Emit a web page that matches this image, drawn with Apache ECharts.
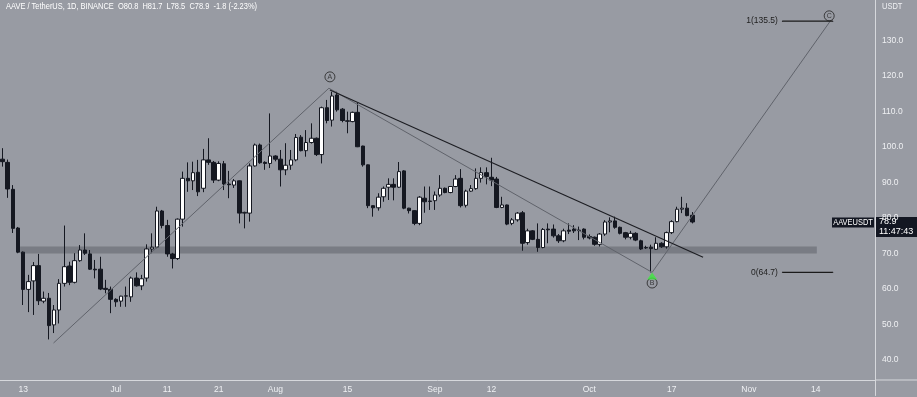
<!DOCTYPE html>
<html>
<head>
<meta charset="utf-8">
<script src="https://cdn.jsdelivr.net/npm/echarts@6/dist/echarts.min.js"></script>
<style>
html, body { margin: 0; padding: 0; background: #989ba3; }
#chart { width: 917px; height: 397px; }
</style>
</head>
<body>
<div id="chart"></div>
<script>
// AAVE / TetherUS daily, Jun 9 - Oct 21 2022
const opens = [96.6, 95.7, 88.1, 77.2, 70.4, 59.9, 62.3, 66.6, 56.6, 57.4,
    49.9, 54.1, 61.6, 66.5, 61.9, 68.0, 71.0, 69.9, 65.6, 65.6,
    60.2, 59.9, 57.1, 56.6, 58.0, 57.8, 63.1, 60.9, 63.1, 71.3,
    71.8, 82.0, 77.9, 69.9, 68.6, 79.7, 91.2, 90.5, 92.9, 88.4,
    96.4, 95.7, 90.7, 95.3, 89.6, 89.3, 90.5, 81.4, 81.4, 94.7,
    100.6, 95.7, 95.4, 97.5, 96.6, 93.6, 94.9, 96.4, 102.8, 99.0,
    101.3, 102.5, 97.9, 111.1, 107.6, 114.7, 110.7, 107.4, 107.2, 109.8,
    100.3, 95.0, 83.5, 82.9, 86.0, 88.7, 89.5, 88.7, 93.3, 82.8,
    82.1, 78.5, 85.6, 84.8, 84.9, 86.5, 88.4, 87.2, 88.9, 91.2,
    83.6, 87.6, 88.3, 91.2, 92.8, 91.5, 91.0, 83.0, 83.7, 78.5,
    79.5, 81.5, 73.1, 76.4, 74.0, 71.7, 76.9, 76.9, 75.0, 73.6,
    76.6, 76.9, 76.6, 76.9, 74.8, 74.6, 72.6, 75.5, 78.9, 79.2,
    77.4, 75.9, 74.6, 75.7, 73.6, 71.7, 71.8, 71.2, 72.9, 71.9,
    75.9, 79.0, 82.5, 82.8, 80.8]
const closes = [95.9, 88.2, 77.1, 70.4, 59.9, 62.1, 66.6, 56.7, 57.4, 49.7,
    54.1, 61.6, 66.3, 61.9, 68.0, 71.0, 70.1, 65.6, 65.4, 60.0,
    59.9, 57.1, 56.4, 58.0, 58.1, 63.1, 60.9, 62.9, 71.3, 71.8,
    82.0, 77.9, 69.9, 68.6, 79.7, 91.2, 90.5, 92.8, 87.4, 96.4,
    95.7, 90.7, 95.4, 89.6, 89.4, 90.5, 81.4, 81.6, 94.7, 100.6,
    95.6, 95.4, 97.5, 96.6, 93.6, 94.9, 96.4, 102.7, 99.0, 101.3,
    102.5, 97.9, 111.1, 107.5, 114.4, 110.5, 107.5, 107.3, 109.8, 100.1,
    95.0, 83.5, 82.9, 85.9, 88.4, 89.5, 88.7, 93.1, 82.8, 82.1,
    78.5, 85.9, 84.6, 84.7, 86.5, 88.4, 87.2, 88.9, 91.0, 83.5,
    87.6, 88.3, 91.2, 92.8, 91.7, 90.7, 83.0, 83.7, 78.3, 79.5,
    81.4, 72.9, 76.4, 74.0, 71.7, 76.8, 76.7, 75.0, 73.6, 76.4,
    76.3, 76.4, 76.5, 74.6, 74.4, 72.6, 75.5, 78.9, 79.2, 77.4,
    75.7, 74.6, 75.7, 73.8, 71.3, 71.6, 71.4, 72.9, 71.9, 75.9,
    79.0, 82.5, 82.8, 80.7, 78.9]
const lows = [94.5, 85.7, 75.8, 70.1, 55.5, 53.5, 52.7, 55.5, 56.0, 45.8,
    47.6, 50.3, 60.7, 61.1, 61.6, 67.7, 69.6, 65.4, 63.0, 59.7,
    58.8, 53.2, 55.0, 55.0, 55.0, 56.4, 60.7, 59.7, 62.1, 70.1,
    71.5, 77.1, 69.1, 65.8, 68.2, 77.6, 87.4, 87.9, 86.2, 87.3,
    95.0, 89.9, 90.4, 87.9, 85.6, 88.5, 78.5, 77.1, 79.0, 94.5,
    95.3, 93.6, 94.1, 96.0, 88.9, 92.1, 93.6, 96.0, 98.8, 97.3,
    101.0, 97.5, 95.4, 106.7, 105.8, 110.0, 107.0, 103.9, 107.0, 100.0,
    94.5, 82.8, 80.4, 82.1, 84.6, 85.1, 85.0, 88.5, 82.5, 81.3,
    78.0, 78.0, 81.5, 82.3, 82.3, 86.0, 87.0, 87.0, 88.7, 83.0,
    83.0, 87.4, 88.0, 90.0, 89.5, 89.0, 82.8, 82.8, 78.0, 78.0,
    79.0, 70.8, 72.5, 73.8, 70.5, 71.5, 72.9, 74.5, 73.0, 73.2,
    75.5, 75.8, 73.8, 74.0, 74.0, 72.2, 72.0, 75.0, 76.0, 77.0,
    75.4, 74.0, 74.0, 73.5, 71.0, 71.3, 64.7, 71.0, 71.6, 71.4,
    75.5, 78.8, 81.4, 80.5, 78.5]
const highs = [99.7, 96.5, 89.3, 77.5, 70.6, 64.0, 67.6, 69.9, 59.3, 58.9,
    55.5, 62.8, 77.9, 67.7, 70.1, 72.4, 75.7, 71.0, 68.2, 69.1,
    62.6, 60.7, 57.4, 58.1, 60.7, 63.5, 64.7, 64.0, 72.6, 75.7,
    83.2, 82.3, 79.5, 70.2, 79.9, 93.1, 95.7, 95.9, 96.4, 99.5,
    102.5, 96.1, 96.0, 96.1, 93.3, 91.0, 90.6, 81.8, 95.4, 101.0,
    101.0, 96.0, 109.5, 97.7, 99.2, 101.1, 99.2, 103.7, 103.4, 104.8,
    106.7, 102.7, 111.4, 113.3, 115.6, 115.6, 111.0, 110.0, 110.0, 112.4,
    100.4, 95.1, 83.6, 87.0, 88.9, 91.2, 91.2, 95.8, 93.5, 82.9,
    82.2, 86.2, 88.9, 88.9, 87.5, 92.1, 88.6, 89.0, 92.1, 93.8,
    88.0, 89.3, 94.0, 94.3, 94.3, 97.0, 91.6, 86.0, 83.8, 80.0,
    81.7, 82.0, 77.0, 76.6, 78.5, 77.2, 78.5, 78.2, 75.5, 77.0,
    78.5, 78.0, 77.6, 77.1, 75.4, 74.8, 75.8, 79.4, 80.2, 80.4,
    77.6, 76.1, 76.4, 76.0, 73.9, 72.2, 72.5, 74.6, 73.2, 76.2,
    79.4, 83.2, 86.0, 84.2, 81.7]

// x axis tick labels shown under the chart
const tickLabels = {
    '2022-06-13': '13', '2022-07-01': 'Jul', '2022-07-11': '11', '2022-07-21': '21',
    '2022-08-01': 'Aug', '2022-08-15': '15', '2022-09-01': 'Sep', '2022-09-12': '12',
    '2022-10-01': 'Oct', '2022-10-17': '17', '2022-11-01': 'Nov', '2022-11-14': '14'
}

// elliott wave path 0 -> A -> B -> C (x as day index)
const waveX = [9.9, 63.4, 126.2, 160.8]
const waveY = [44.8, 116.6, 64.7, 135.5]
// descending trendline
const trendX = [63.6, 136.1]
const trendY = [116.1, 68.95]
// support zone
const zoneX = [3.4, 158.2]
const zoneY = [72.0, 70.0]
// wave letters
const letters = ['A', 'B', 'C']
const letterX = [63.6, 126.2, 160.6]
const letterY = [119.8, 61.7, 137.0]
// fib levels
const fibNames = ['0(64.7)', '1(135.5)']
const fibValues = [64.7, 135.5]
const fibX = [151.5, 161.3]

const lastClose = 78.9
const totalDays = 170
const fontFam = '"Liberation Sans", Arial, sans-serif'
const textColor = '#eff0f3'
const squeeze = 0.83 // screenshot font is condensed

const dates = []
const start = Date.UTC(2022, 5, 9)
for (let i = 0; i < totalDays; i++) {
    dates.push(new Date(start + i * 86400000).toISOString().slice(0, 10))
}
const candles = opens.map((o, i) => [o, closes[i], lows[i], highs[i]])

const chart = echarts.init(document.getElementById('chart'), null, { renderer: 'canvas' })

const letterSeries = letters.map((l, i) => ({
    type: 'scatter',
    xAxisIndex: 1,
    symbol: 'circle',
    symbolSize: 10,
    itemStyle: { color: 'rgba(0,0,0,0)', borderColor: '#222', borderWidth: 1 },
    label: { show: true, position: 'inside', formatter: l, color: '#222', fontSize: 7, fontFamily: fontFam },
    data: [[letterX[i], letterY[i]]],
    z: 6
}))

const fibSeries = fibNames.map((n, i) => ({
    type: 'line',
    xAxisIndex: 1,
    symbol: 'circle',
    symbolSize: 1,
    itemStyle: { color: '#1a1a1a' },
    lineStyle: { color: '#1a1a1a', width: 1.2 },
    data: [
        { value: [fibX[0], fibValues[i]], label: { show: true, position: 'left', distance: 4, formatter: n, color: '#222', fontSize: 8.5, fontFamily: fontFam } },
        [fibX[1], fibValues[i]]
    ],
    z: 5
}))

const option = {
    animation: false,
    backgroundColor: '#989ba3',
    grid: { left: 0, right: 42, top: -30.3, bottom: 1.5, outerBoundsMode: 'none', containLabel: false },
    xAxis: [{
        type: 'category',
        data: dates,
        boundaryGap: true,
        offset: -15.5,
        axisLine: { show: true, onZero: false, lineStyle: { color: '#d6d8dc', width: 1 } },
        axisTick: { show: false },
        splitLine: { show: false },
        axisLabel: {
            interval: (idx, val) => tickLabels[val] !== undefined,
            formatter: val => tickLabels[val] || '',
            color: textColor, fontSize: 8.5, fontFamily: fontFam, margin: 5
        }
    }, {
        type: 'value',
        min: -0.5,
        max: totalDays - 0.5,
        show: false
    }],
    yAxis: {
        type: 'value',
        position: 'right',
        min: 30, max: 150, interval: 10,
        axisLine: { show: true, onZero: false, lineStyle: { color: '#d6d8dc', width: 1 } },
        axisTick: { show: false },
        splitLine: { show: false },
        axisLabel: {
            margin: 7,
            color: textColor, fontSize: 8.5, fontFamily: fontFam,
            formatter: v => (v < 35 || v > 135) ? '' : v.toFixed(1)
        }
    },
    series: [{
        type: 'candlestick',
        data: candles,
        barWidth: 4,
        itemStyle: {
            color: '#ffffff', color0: '#151821',
            borderColor: '#151821', borderColor0: '#151821', borderWidth: 1
        },
        z: 3
    }, {
        type: 'line',
        xAxisIndex: 1,
        symbol: 'none',
        lineStyle: { color: '#60636b', width: 1 },
        data: waveX.map((x, i) => [x, waveY[i]]),
        markArea: {
            silent: true,
            itemStyle: { color: 'rgba(100,103,111,0.6)' },
            data: [[{ coord: [zoneX[0], zoneY[0]] }, { coord: [zoneX[1], zoneY[1]] }]]
        },
        z: 4
    }, {
        type: 'line',
        xAxisIndex: 1,
        symbol: 'none',
        lineStyle: { color: '#1c1d22', width: 1.1 },
        data: trendX.map((x, i) => [x, trendY[i]]),
        z: 4
    }, {
        type: 'scatter',
        xAxisIndex: 1,
        symbol: 'triangle',
        symbolSize: [10, 7],
        itemStyle: { color: '#3ee83e' },
        data: [[waveX[2], 63.7]],
        z: 7
    }].concat(letterSeries, fibSeries)
}
chart.setOption(option)

// header, price tag on the axis
const py = chart.convertToPixel({ yAxisIndex: 0 }, lastClose)
const axisX = chart.getWidth() - 42
const axisY = chart.convertToPixel({ yAxisIndex: 0 }, 30) - 15.5
chart.setOption({
    graphic: [
        { type: 'line', shape: { x1: axisX, y1: axisY, x2: chart.getWidth(), y2: axisY }, style: { stroke: '#d6d8dc', lineWidth: 1 } },
        { type: 'text', x: 6, y: 6.5, scaleX: squeeze, style: { text: 'AAVE / TetherUS, 1D, BINANCE  O80.8  H81.7  L78.5  C78.9  -1.8 (-2.23%)', fill: '#ffffff', fontSize: 9, fontFamily: fontFam, verticalAlign: 'middle' } },
        { type: 'text', x: axisX + 7, y: 6.5, scaleX: squeeze, style: { text: 'USDT', fill: textColor, fontSize: 9, fontFamily: fontFam, verticalAlign: 'middle' } },
        { type: 'rect', shape: { x: axisX - 43, y: py - 4.5, width: 42, height: 10 }, style: { fill: '#131722' } },
        { type: 'text', x: axisX - 22, y: py + 0.5, scaleX: squeeze, style: { text: 'AAVEUSDT', fill: '#ffffff', fontSize: 9, fontFamily: fontFam, align: 'center', verticalAlign: 'middle' } },
        { type: 'rect', shape: { x: axisX, y: py - 5, width: 42, height: 20 }, style: { fill: '#131722' } },
        { type: 'text', x: axisX + 4, y: py, style: { text: lastClose.toFixed(1), fill: '#ffffff', fontSize: 9, fontFamily: fontFam, verticalAlign: 'middle' } },
        { type: 'text', x: axisX + 4, y: py + 9.5, style: { text: '11:47:43', fill: '#ffffff', fontSize: 9, fontFamily: fontFam, verticalAlign: 'middle' } }
    ]
})
</script>
</body>
</html>
